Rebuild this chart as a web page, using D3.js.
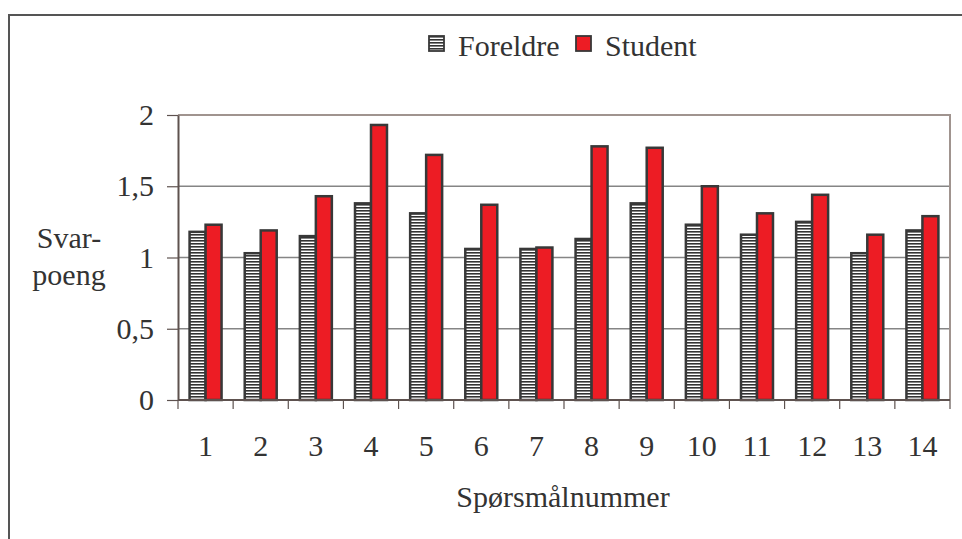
<!DOCTYPE html>
<html>
<head>
<meta charset="utf-8">
<script src="https://cdn.jsdelivr.net/npm/d3@7"></script>
<style>
  body { margin: 0; background: #fff; }
  text { font-family: "Liberation Serif", "Times New Roman", serif; fill: #333; }
</style>
</head>
<body>
<div id="chart-area"></div>
<script>
// data
var questions = ["1", "2", "3", "4", "5", "6", "7", "8", "9", "10", "11", "12", "13", "14"];
var foreldre = [1.18, 1.03, 1.15, 1.38, 1.31, 1.06, 1.06, 1.13, 1.38, 1.23, 1.16, 1.25, 1.03, 1.19];
var student  = [1.23, 1.19, 1.43, 1.93, 1.72, 1.37, 1.07, 1.78, 1.77, 1.50, 1.31, 1.44, 1.16, 1.29];
var seriesNames = ["Foreldre", "Student"];
var yTicks = [0, 0.5, 1, 1.5, 2];

var width = 962, height = 539;
var plotLeft = 178, plotRight = 950, plotTop = 115, plotBottom = 400;
var fontSize = 30;

var svg = d3.select("#chart-area")
  .append("svg")
  .attr("width", width)
  .attr("height", height);

var defs = svg.append("defs");
var pat = defs.append("pattern")
  .attr("id", "hatch")
  .attr("patternUnits", "userSpaceOnUse")
  .attr("width", 6)
  .attr("height", 3);
pat.append("rect").attr("width", 6).attr("height", 3).attr("fill", "#fff");
pat.append("rect").attr("width", 6).attr("height", 1.6).attr("fill", "#333");

// outer frame (only top and left visible)
svg.append("path")
  .attr("d", "M9," + height + "V15H" + width)
  .attr("fill", "none")
  .attr("stroke", "#555")
  .attr("stroke-width", 2);

var x = d3.scaleBand()
  .domain(questions)
  .range([plotLeft, plotRight])
  .paddingInner(0.42)
  .paddingOuter(0.21);

var xs = d3.scaleBand()
  .domain(seriesNames)
  .range([0, x.bandwidth()]);

var y = d3.scaleLinear()
  .domain([0, 2])
  .range([plotBottom, plotTop]);

// gridlines
svg.append("g")
  .selectAll("line")
  .data(yTicks.filter(function(d) { return d > 0 && d < 2; }))
  .enter()
  .append("line")
  .attr("x1", plotLeft).attr("x2", plotRight)
  .attr("y1", function(d) { return y(d); })
  .attr("y2", function(d) { return y(d); })
  .attr("stroke", "#858585")
  .attr("stroke-width", 1.5);

// plot border top + right
svg.append("path")
  .attr("d", "M" + plotLeft + "," + y(2) + "H" + plotRight + "V" + plotBottom)
  .attr("fill", "none")
  .attr("stroke", "#a0948f")
  .attr("stroke-width", 2);

// bars
var rows = questions.map(function(q, i) {
  return { q: q, vals: [{ s: "Foreldre", v: foreldre[i] }, { s: "Student", v: student[i] }] };
});

var groups = svg.append("g")
  .selectAll("g")
  .data(rows)
  .enter()
  .append("g")
  .attr("transform", function(d) { return "translate(" + x(d.q) + ",0)"; });

groups.selectAll("rect")
  .data(function(d) { return d.vals; })
  .enter()
  .append("rect")
  .attr("x", function(d) { return xs(d.s); })
  .attr("y", function(d) { return y(d.v); })
  .attr("width", xs.bandwidth())
  .attr("height", function(d) { return y(0) - y(d.v); })
  .attr("fill", function(d) { return d.s === "Foreldre" ? "url(#hatch)" : "#ed1c24"; })
  .attr("stroke", "#383838")
  .attr("stroke-width", 2.5);

// y axis
var yAxis = svg.append("g")
  .attr("transform", "translate(" + plotLeft + ",0)")
  .call(d3.axisLeft(y)
    .tickValues(yTicks)
    .tickSize(11)
    .tickSizeOuter(0)
    .tickPadding(13)
    .tickFormat(function(d) { return String(d).replace(".", ","); }));
yAxis.select(".domain").attr("stroke", "#5e524f").attr("stroke-width", 2);
yAxis.selectAll(".tick line").attr("stroke", "#5e524f").attr("stroke-width", 1.2);
yAxis.selectAll(".tick text")
  .attr("font-size", fontSize)
  .attr("font-family", "Liberation Serif")
  .attr("fill", "#333");

// x axis: line + ticks between categories
var step = x.step();
var x0 = x(questions[0]) - (step - x.bandwidth()) / 2;
var edges = d3.range(questions.length + 1);
svg.append("line")
  .attr("x1", plotLeft).attr("x2", plotRight)
  .attr("y1", plotBottom).attr("y2", plotBottom)
  .attr("stroke", "#5e524f")
  .attr("stroke-width", 2);
svg.append("g")
  .selectAll("line")
  .data(edges)
  .enter()
  .append("line")
  .attr("x1", function(d) { return x0 + d * step; })
  .attr("x2", function(d) { return x0 + d * step; })
  .attr("y1", plotBottom)
  .attr("y2", plotBottom + 9)
  .attr("stroke", "#5e524f")
  .attr("stroke-width", 1.2);

svg.append("g")
  .selectAll("text")
  .data(questions)
  .enter()
  .append("text")
  .attr("x", function(d) { return x(d) + x.bandwidth() / 2; })
  .attr("y", 456)
  .attr("text-anchor", "middle")
  .attr("font-size", fontSize)
  .text(function(d) { return d; });

// axis titles
svg.append("text")
  .attr("x", 563)
  .attr("y", 507)
  .attr("text-anchor", "middle")
  .attr("font-size", fontSize)
  .text("Spørsmålnummer");

svg.append("text")
  .attr("x", 69)
  .attr("y", 248)
  .attr("text-anchor", "middle")
  .attr("font-size", fontSize)
  .text("Svar-");
svg.append("text")
  .attr("x", 69)
  .attr("y", 285)
  .attr("text-anchor", "middle")
  .attr("font-size", fontSize)
  .text("poeng");

// legend
var legendX = [429, 576];
var legend = svg.append("g")
  .selectAll("g")
  .data(seriesNames)
  .enter()
  .append("g")
  .attr("transform", function(d, i) { return "translate(" + legendX[i] + ",36)"; });
legend.append("rect")
  .attr("width", 15)
  .attr("height", 15)
  .attr("fill", function(d) { return d === "Foreldre" ? "url(#hatch)" : "#ed1c24"; })
  .attr("stroke", "#383838")
  .attr("stroke-width", 1.8);
legend.append("text")
  .attr("x", 29)
  .attr("y", 20)
  .attr("font-size", fontSize)
  .text(function(d) { return d; });
</script>
</body>
</html>
